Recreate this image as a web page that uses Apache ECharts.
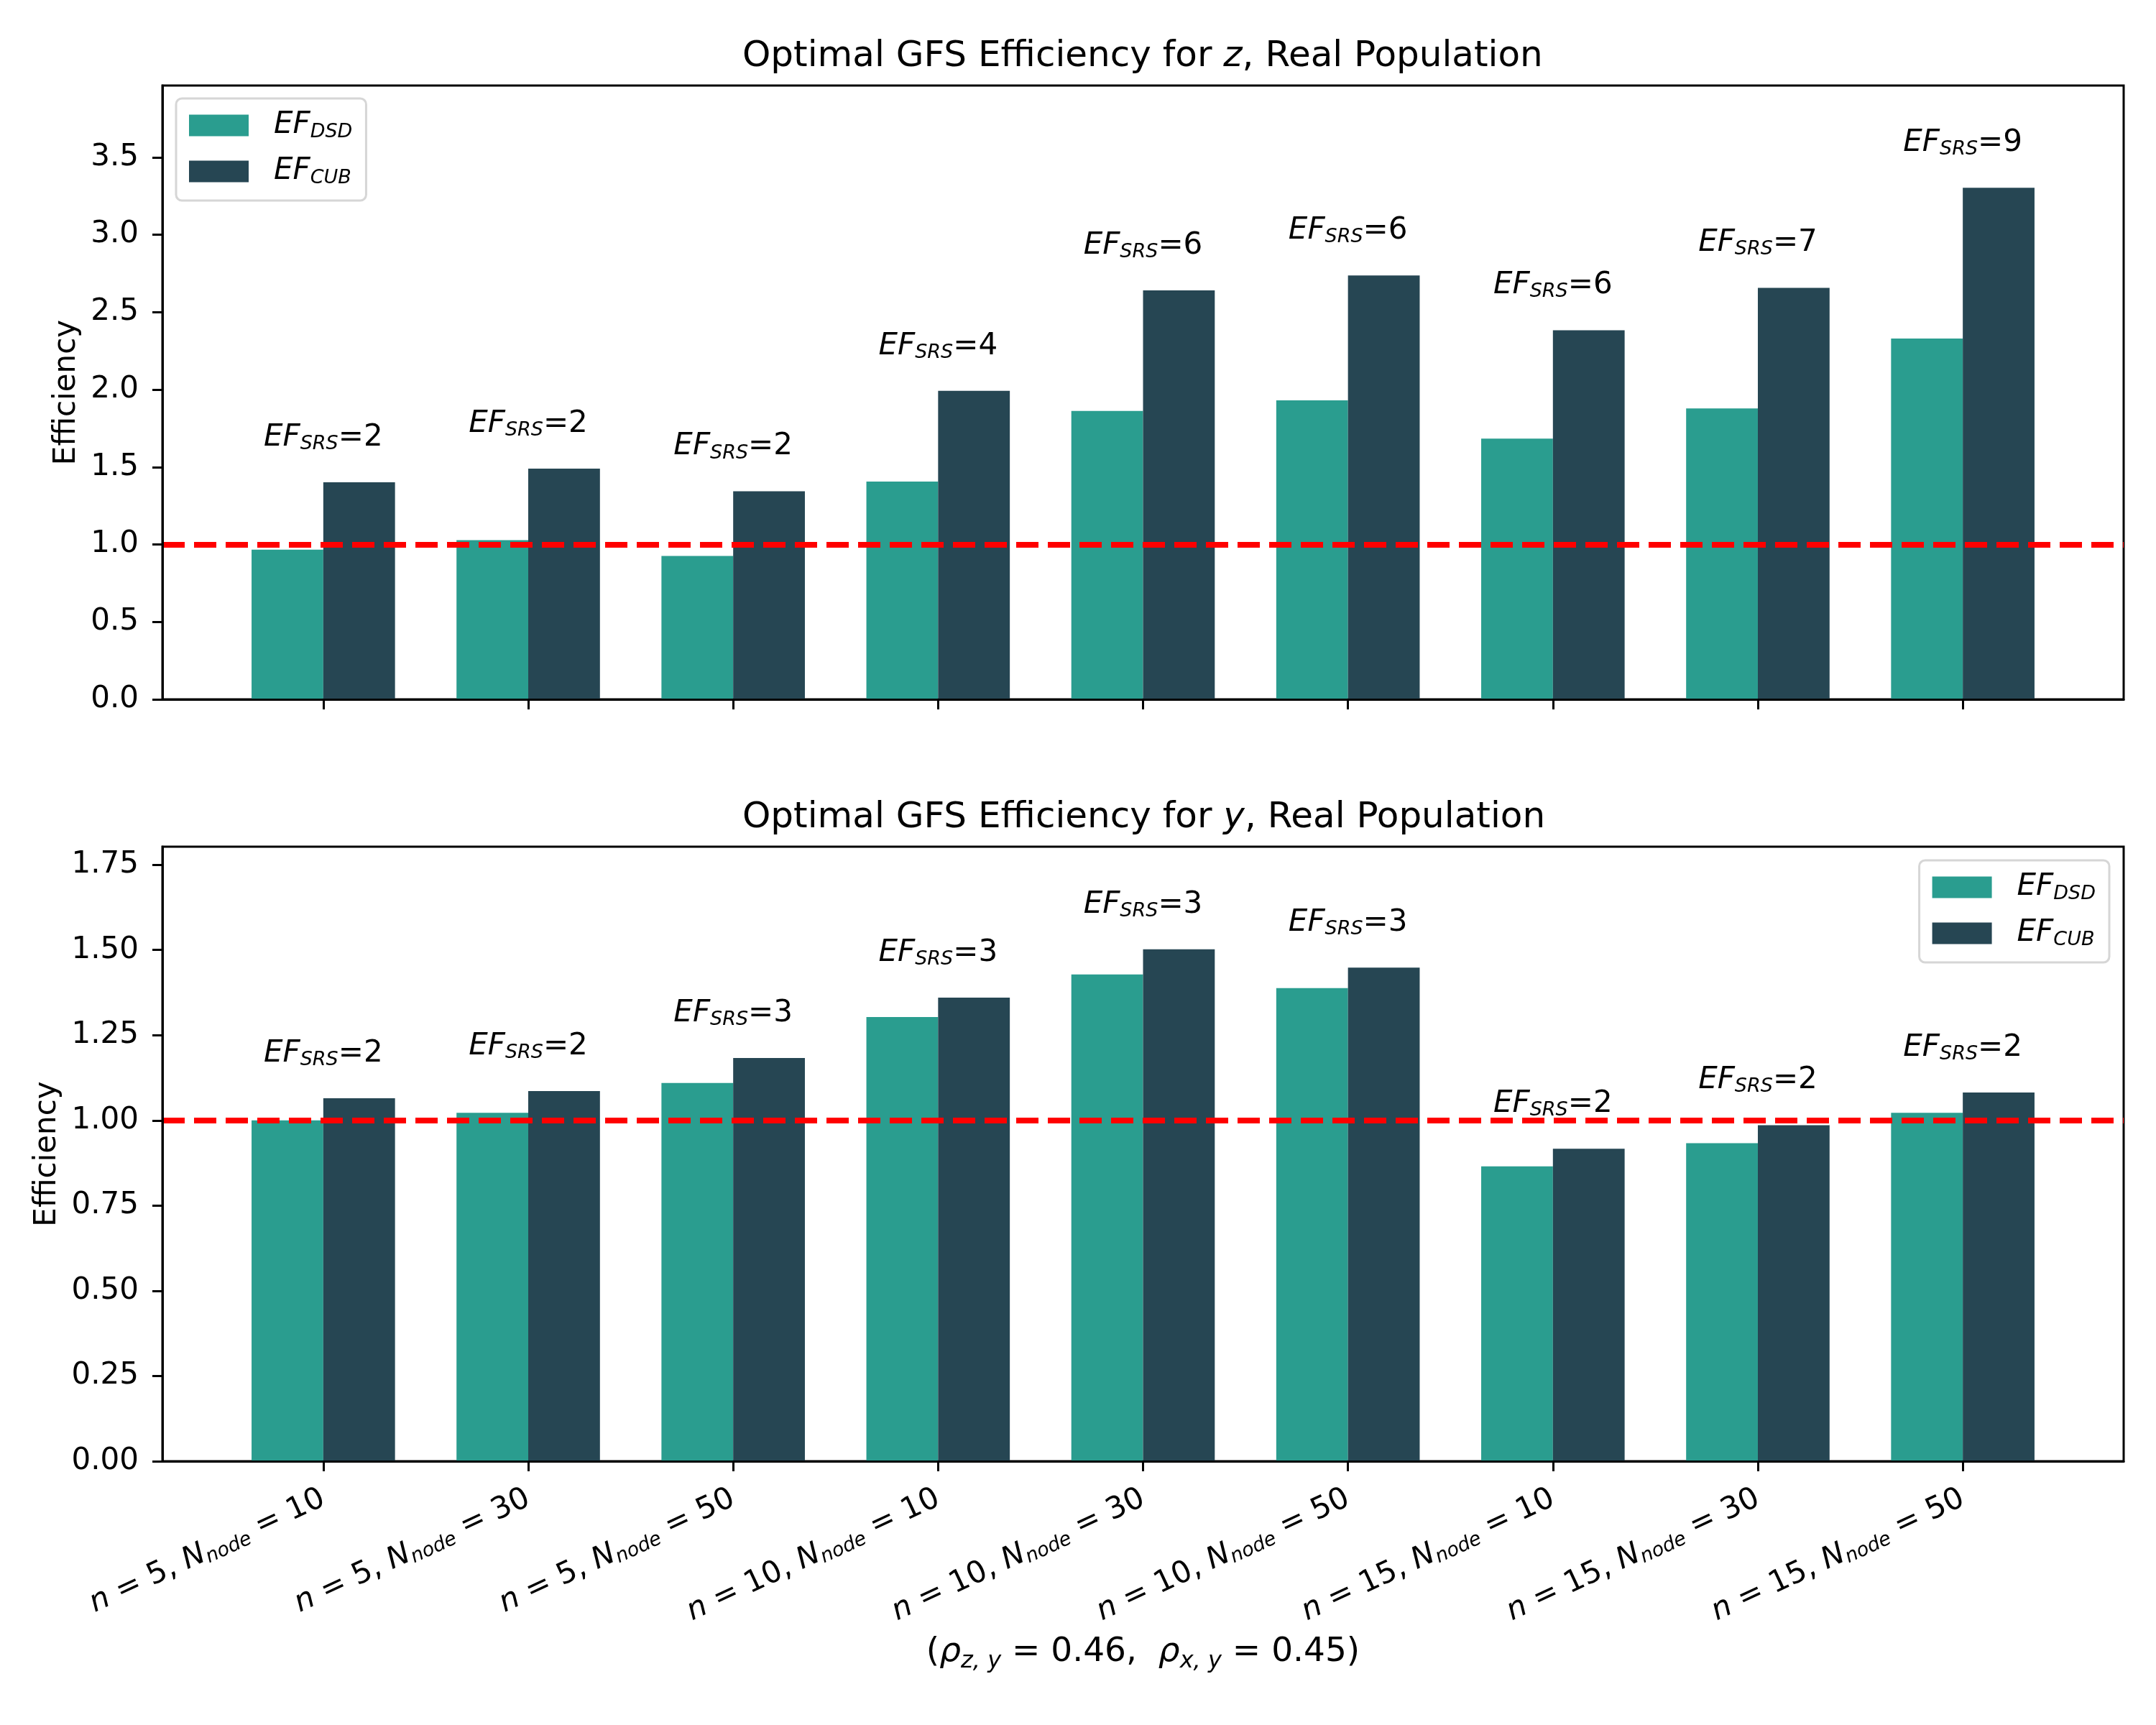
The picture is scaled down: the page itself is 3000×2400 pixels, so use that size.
<!DOCTYPE html>
<html><head><meta charset="utf-8">
<script src="https://cdn.jsdelivr.net/npm/echarts@6/dist/echarts.min.js"></script>
<style>html,body{margin:0;padding:0;background:#fff}#c{width:3000px;height:2400px}</style>
</head><body><div id="c"></div>
<script>
// ---- data ----
const catN = [5, 5, 5, 10, 10, 10, 15, 15, 15];
const catNode = [10, 30, 50, 10, 30, 50, 10, 30, 50];
const dsdZ = [0.966, 1.028, 0.926, 1.406, 1.862, 1.931, 1.683, 1.878, 2.330];
const cubZ = [1.402, 1.490, 1.343, 1.992, 2.640, 2.737, 2.383, 2.657, 3.303];
const srsZ = [2, 2, 2, 4, 6, 6, 6, 7, 9];
const dsdY = [1.000, 1.022, 1.110, 1.303, 1.428, 1.388, 0.865, 0.933, 1.022];
const cubY = [1.065, 1.086, 1.183, 1.360, 1.502, 1.448, 0.917, 0.986, 1.082];
const srsY = [2, 2, 3, 3, 3, 3, 2, 2, 2];
const yTicksTop = [0, 0.5, 1, 1.5, 2, 2.5, 3, 3.5];
const yTicksBottom = [0, 0.25, 0.5, 0.75, 1, 1.25, 1.5, 1.75];
const refLine = 1.0;

const idx = catN.map((_, i) => i);
const FONT = 'DejaVu Sans';
const C_DSD = '#2a9d8f', C_CUB = '#264653';
function rich(F, Ls, p) {
  return {
    r: {fontFamily: FONT, fontSize: F, lineHeight: F, color: '#000'},
    i: {fontFamily: FONT, fontSize: F, lineHeight: F, fontStyle: 'italic', color: '#000'},
    s: {fontFamily: FONT, fontSize: Ls, lineHeight: Ls, fontStyle: 'italic', padding: [p, 0, 0, 0], color: '#000'}
  };
}
const R42 = rich(42, 27, 18);
const R50 = rich(50, 34, 26);
const R48 = rich(47, 32, 26);

const BW = 99.8;
function bars(name, vals, color, gi, srs) {
  const s = {
    type: 'bar', name: name, xAxisIndex: gi, yAxisIndex: gi,
    data: idx.map(i => [i, vals[i]]),
    barWidth: BW, barGap: '0%',
    itemStyle: {color: color},
    z: 2
  };
  if (srs) {
    s.label = {
      show: true, position: 'top', distance: 41, offset: [-BW / 2, 0],
      formatter: p => '{i|EF}{s|SRS}{r|=' + srs[p.dataIndex] + '}',
      rich: R42, fontSize: 42, fontFamily: FONT
    };
  } else {
    s.markLine = {
      silent: true, symbol: ['none', 'none'], label: {show: false},
      lineStyle: {color: '#ff0000', type: [31, 13], width: 8},
      data: [{yAxis: refLine}], z: 5
    };
  }
  return s;
}

function xAxis(gi, showLabels) {
  const a = {
    gridIndex: gi, type: 'value', min: -0.785, max: 8.785, z: 10,
    axisLine: {show: true, onZero: false, lineStyle: {color: '#000', width: 3}},
    splitLine: {show: false},
    axisTick: {show: true, customValues: idx, length: 14, lineStyle: {color: '#000', width: 3}},
    axisLabel: {show: showLabels, customValues: idx}
  };
  if (showLabels) {
    a.axisLabel = {
      show: true, customValues: idx, rotate: 25, margin: 50,
      fontSize: 42, fontFamily: FONT, color: '#000',
      formatter: v => { const i = Math.round(v); return '{i|n}{r| = ' + catN[i] + ', }{i|N}{s|node}{r| = ' + catNode[i] + '}'; },
      rich: R42
    };
    a.name = '{r|(}{i|ρ}{s|z, y}{r| = 0.46,  }{i|ρ}{s|x, y}{r| = 0.45)}';
    a.nameLocation = 'middle';
    a.nameGap = 242;
    a.nameTextStyle = {rich: R48, fontSize: 47, fontFamily: FONT, color: '#000'};
  }
  return a;
}
function yAxis(gi, max, ticks, dec, gap) {
  return {
    gridIndex: gi, type: 'value', min: 0, max: max, z: 10,
    name: 'Efficiency', nameLocation: 'middle', nameGap: gap,
    nameTextStyle: {fontFamily: FONT, fontSize: 42, color: '#000'},
    axisLine: {show: true, onZero: false, lineStyle: {color: '#000', width: 3}},
    splitLine: {show: false},
    axisTick: {show: true, customValues: ticks, length: 14, lineStyle: {color: '#000', width: 3}},
    axisLabel: {customValues: ticks, formatter: v => v.toFixed(dec), margin: 33,
      fontFamily: FONT, fontSize: 42, color: '#000'}
  };
}
function legend(pos) {
  return Object.assign({
    orient: 'vertical', icon: 'rect', itemWidth: 83, itemHeight: 30, itemGap: 19,
    padding: [15, 19, 18, 18], borderColor: '#d6d6d6', borderWidth: 3, borderRadius: 8,
    backgroundColor: 'rgba(255,255,255,0.8)', selectedMode: false,
    data: ['DSD', 'CUB'],
    formatter: n => '{i|EF}{s|' + n + '}',
    textStyle: {fontFamily: FONT, fontSize: 42, color: '#000', rich: R42, padding: [0, 0, 0, 30]}
  }, pos);
}

const chart = echarts.init(document.getElementById('c'), null, {renderer: 'canvas'});
chart.setOption({
  animation: false,
  backgroundColor: '#fff',
  title: [
    {text: '{r|Optimal GFS Efficiency for }{i|z}{r|, Real Population}', left: 1033, top: 54, padding: 0,
     textStyle: {rich: R50, fontSize: 50, fontFamily: FONT, fontWeight: 'normal'}},
    {text: '{r|Optimal GFS Efficiency for }{i|y}{r|, Real Population}', left: 1033, top: 1113, padding: 0,
     textStyle: {rich: R50, fontSize: 50, fontFamily: FONT, fontWeight: 'normal'}}
  ],
  legend: [legend({left: 245, top: 137}), legend({right: 65, top: 1197})],
  grid: [
    {left: 226, right: 45, top: 119, height: 854, show: true, borderColor: '#000', borderWidth: 3, containLabel: false},
    {left: 226, right: 45, top: 1178, height: 855, show: true, borderColor: '#000', borderWidth: 3, containLabel: false}
  ],
  xAxis: [xAxis(0, false), xAxis(1, true)],
  yAxis: [yAxis(0, 3.963, yTicksTop, 1, 112), yAxis(1, 1.803, yTicksBottom, 2, 139)],
  series: [
    bars('DSD', dsdZ, C_DSD, 0, null),
    bars('CUB', cubZ, C_CUB, 0, srsZ),
    bars('DSD', dsdY, C_DSD, 1, null),
    bars('CUB', cubY, C_CUB, 1, srsY)
  ]
});
</script></body></html>
